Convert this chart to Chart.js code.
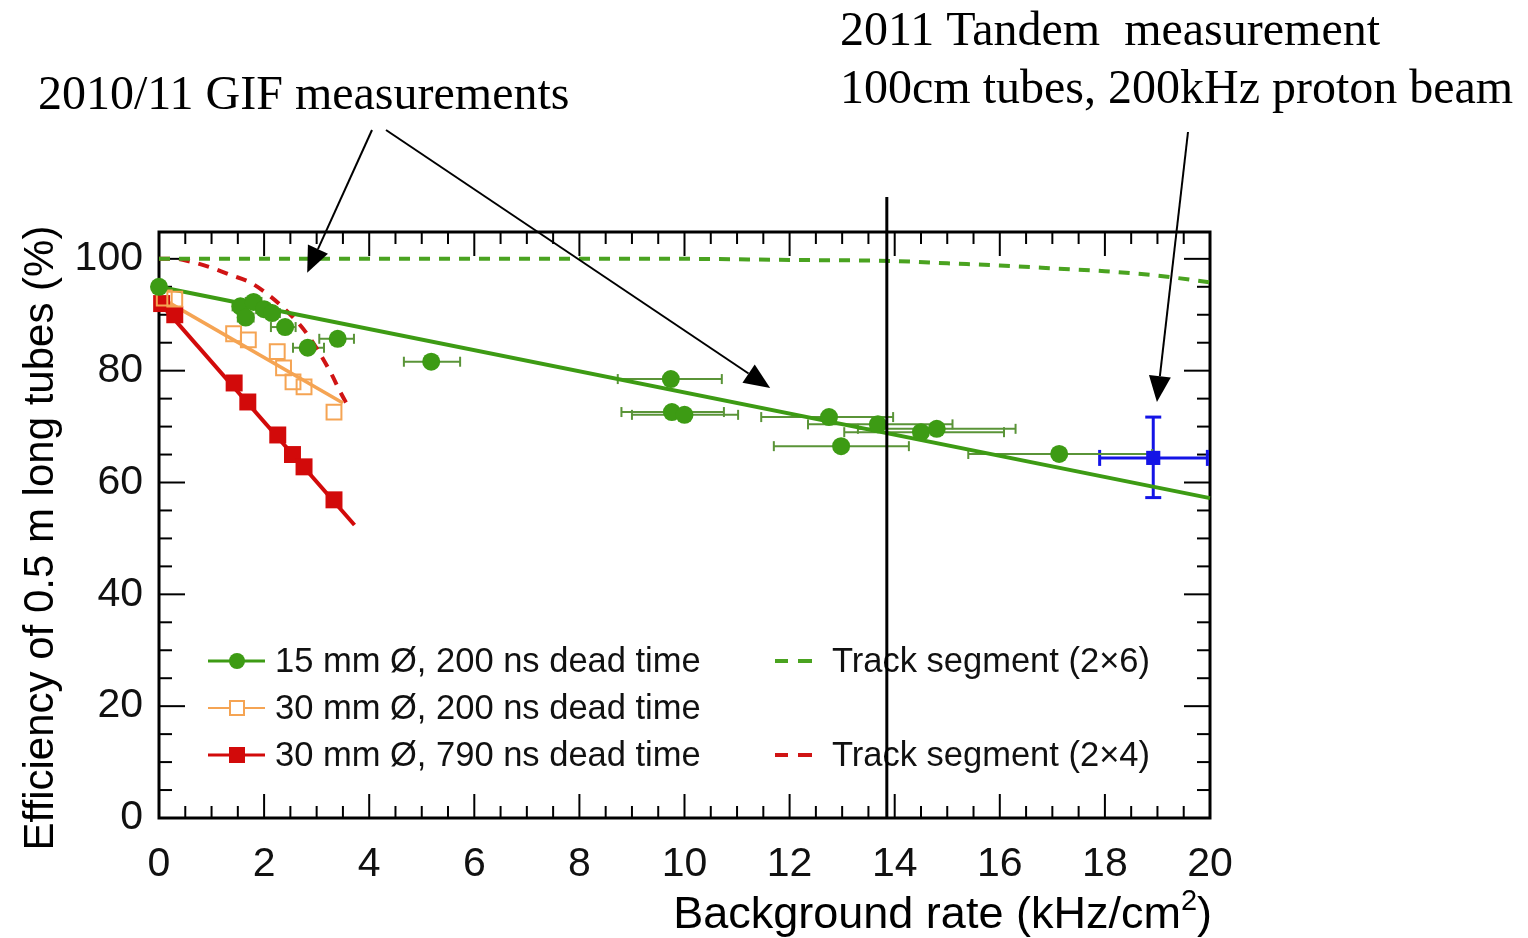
<!DOCTYPE html>
<html>
<head>
<meta charset="utf-8">
<script src="https://cdn.jsdelivr.net/npm/chart.js@4.4.1/dist/chart.umd.min.js"></script>
<style>
  html, body { margin: 0; padding: 0; background: #fff; }
  #wrap { width: 1528px; height: 938px; }
</style>
</head>
<body>
<div id="wrap"><canvas id="chart" width="1528" height="938"></canvas></div>
<script>
// GIF 2010/11, 15 mm tubes, 200 ns dead time
const gif15Rate   = [0.0, 1.55, 1.65, 1.8, 2.0, 2.15, 2.4, 2.83, 3.4, 5.18, 9.74, 9.76, 10.0, 12.75, 12.98, 13.68, 14.5, 14.8, 17.13];
const gif15RateLo = [0.0, 1.4, 1.5, 1.65, 1.85, 2.0, 2.13, 2.55, 3.05, 4.66, 8.73, 8.8, 9.0, 11.46, 11.7, 12.35, 13.04, 13.3, 15.4];
const gif15RateHi = [0.0, 1.7, 1.8, 1.95, 2.15, 2.3, 2.6, 3.14, 3.71, 5.73, 10.71, 10.75, 11.02, 13.97, 14.27, 15.1, 16.08, 16.3, 18.9];
const gif15Eff    = [95.0, 91.5, 89.5, 92.3, 91.0, 90.3, 87.8, 84.1, 85.7, 81.6, 78.5, 72.6, 72.1, 71.7, 66.5, 70.4, 69.0, 69.6, 65.1];

// GIF 2010/11, 30 mm tubes, 200 ns dead time
const gif30Rate = [0.1, 0.3, 1.42, 1.7, 2.25, 2.37, 2.55, 2.76, 3.33];
const gif30Eff  = [93.0, 92.8, 86.6, 85.5, 83.4, 80.5, 78.0, 77.1, 72.6];

// GIF 2010/11, 30 mm tubes, 790 ns dead time
const gif790Rate = [0.05, 0.3, 1.43, 1.69, 2.26, 2.54, 2.76, 3.33];
const gif790Eff  = [92.0, 90.0, 77.8, 74.4, 68.5, 65.0, 62.8, 56.9];

// straight-line fits
const fit15Rate  = [0, 20];   const fit15Eff  = [95.0, 57.2];
const fit30Rate  = [0, 3.5];  const fit30Eff  = [93.2, 74.2];
const fit790Rate = [0, 3.72]; const fit790Eff = [92.3, 52.4];

// track segment efficiency curves
const seg26Rate = [0, 10, 12, 14, 15, 16, 17, 18, 19, 20];
const seg26Eff  = [100, 100, 99.8, 99.6, 99.2, 98.8, 98.3, 97.8, 97.0, 95.8];
const seg24Rate = [0, 0.3, 0.6, 1.0, 1.37, 1.75, 2.13, 2.45, 2.76, 3.02, 3.27, 3.46, 3.62];
const seg24Eff  = [100, 100, 99.5, 98.4, 97.1, 95.7, 93.2, 90.5, 87.3, 83.7, 79.6, 76.0, 73.3];

// Tandem 2011, 100 cm tubes
const tandemRate = [18.92]; const tandemRateLo = [17.9]; const tandemRateHi = [19.95];
const tandemEff  = [64.4];  const tandemEffLo  = [57.3]; const tandemEffHi  = [71.7];

const cutRate = 13.85;

const xTicks = [0, 2, 4, 6, 8, 10, 12, 14, 16, 18, 20];
const yTicks = [0, 20, 40, 60, 80, 100];
const xMinorStep = 0.5;
const yMinorStep = 5;

const label15  = '15 mm \u00D8, 200 ns dead time';
const label30  = '30 mm \u00D8, 200 ns dead time';
const label790 = '30 mm \u00D8, 790 ns dead time';
const label26  = 'Track segment (2\u00D76)';
const label24  = 'Track segment (2\u00D74)';

const GREEN = '#3d9b14';
const ORANGE = '#f5a453';
const RED = '#d20a0a';
const BLUE = '#1414e6';

const pts = (xs, ys) => xs.map((v, i) => ({ x: v, y: ys[i] }));

const datasets = [
    {
        label: 'tandem', data: pts(tandemRate, tandemEff),
        pointStyle: 'rect', pointRadius: 10, backgroundColor: BLUE, borderColor: BLUE, borderWidth: 0,
        xLo: tandemRateLo, xHi: tandemRateHi, yLo: tandemEffLo, yHi: tandemEffHi,
        errColor: BLUE, errWidth: 3, capSize: 8
    },
    {
        label: label15, data: pts(gif15Rate, gif15Eff),
        pointStyle: 'circle', pointRadius: 9, backgroundColor: GREEN, borderColor: GREEN, borderWidth: 0,
        xLo: gif15RateLo, xHi: gif15RateHi,
        errColor: '#5a9438', errWidth: 2, capSize: 5
    },
    {
        label: label30, data: pts(gif30Rate, gif30Eff),
        pointStyle: 'rect', pointRadius: 10.5, backgroundColor: 'rgba(0,0,0,0)', borderColor: ORANGE, borderWidth: 2
    },
    {
        label: label790, data: pts(gif790Rate, gif790Eff),
        pointStyle: 'rect', pointRadius: 12, backgroundColor: RED, borderColor: RED, borderWidth: 0
    },
    {
        label: 'fit15', data: pts(fit15Rate, fit15Eff), showLine: true, pointRadius: 0,
        borderColor: GREEN, borderWidth: 4
    },
    {
        label: 'fit30', data: pts(fit30Rate, fit30Eff), showLine: true, pointRadius: 0,
        borderColor: ORANGE, borderWidth: 3.5
    },
    {
        label: 'fit790', data: pts(fit790Rate, fit790Eff), showLine: true, pointRadius: 0,
        borderColor: RED, borderWidth: 4
    },
    {
        label: label26, data: pts(seg26Rate, seg26Eff), showLine: true, pointRadius: 0,
        borderColor: '#4aa320', borderWidth: 4, borderDash: [11, 9], cubicInterpolationMode: 'monotone'
    },
    {
        label: label24, data: pts(seg24Rate, seg24Eff), showLine: true, pointRadius: 0,
        borderColor: '#d01414', borderWidth: 4, borderDash: [11, 9], cubicInterpolationMode: 'monotone'
    }
];
datasets.forEach(ds => { ds.clip = false; });

function seg(ctx, x0, y0, x1, y1) {
    ctx.beginPath(); ctx.moveTo(x0, y0); ctx.lineTo(x1, y1); ctx.stroke();
}

function arrow(ctx, x0, y0, x1, y1) {
    const ang = Math.atan2(y1 - y0, x1 - x0);
    const len = 26, half = 11;
    const bx = x1 - len * Math.cos(ang), by = y1 - len * Math.sin(ang);
    ctx.lineWidth = 2;
    seg(ctx, x0, y0, bx, by);
    ctx.beginPath();
    ctx.moveTo(x1, y1);
    ctx.lineTo(bx + half * Math.sin(ang), by - half * Math.cos(ang));
    ctx.lineTo(bx - half * Math.sin(ang), by + half * Math.cos(ang));
    ctx.closePath();
    ctx.fill();
}

// frame with inward ticks on all four sides, plus error bars
const plotDecor = {
    id: 'plotDecor',
    beforeDatasetsDraw(chart) {
        const { ctx, chartArea: a, scales: { x, y } } = chart;
        ctx.save();
        ctx.strokeStyle = '#000';
        ctx.lineWidth = 2;
        for (let v = 0; v <= 20.001; v += xMinorStep) {
            const px = x.getPixelForValue(v);
            const major = xTicks.some(t => Math.abs(t - v) < 1e-6);
            const l = major ? 24 : 12;
            seg(ctx, px, a.bottom, px, a.bottom - l);
            seg(ctx, px, a.top, px, a.top + l);
        }
        for (let v = 0; v <= 100.001; v += yMinorStep) {
            const py = y.getPixelForValue(v);
            const major = yTicks.some(t => Math.abs(t - v) < 1e-6);
            const l = major ? 26 : 13;
            seg(ctx, a.left, py, a.left + l, py);
            seg(ctx, a.right, py, a.right - l, py);
        }
        ctx.lineWidth = 3;
        ctx.strokeRect(a.left, a.top, a.right - a.left, a.bottom - a.top);

        chart.data.datasets.forEach(ds => {
            if (!ds.xLo && !ds.yLo) return;
            ctx.strokeStyle = ds.errColor;
            ctx.lineWidth = ds.errWidth;
            ds.data.forEach((p, j) => {
                const px = x.getPixelForValue(p.x), py = y.getPixelForValue(p.y);
                const c = ds.capSize;
                if (ds.xLo && ds.xHi[j] > ds.xLo[j]) {
                    const x0 = x.getPixelForValue(ds.xLo[j]), x1 = x.getPixelForValue(ds.xHi[j]);
                    seg(ctx, x0, py, x1, py);
                    seg(ctx, x0, py - c, x0, py + c);
                    seg(ctx, x1, py - c, x1, py + c);
                }
                if (ds.yLo) {
                    const y0 = y.getPixelForValue(ds.yLo[j]), y1 = y.getPixelForValue(ds.yHi[j]);
                    seg(ctx, px, y0, px, y1);
                    seg(ctx, px - c, y0, px + c, y0);
                    seg(ctx, px - c, y1, px + c, y1);
                }
            });
        });
        ctx.restore();
    },
    afterDatasetsDraw(chart) {
        const { ctx, chartArea: a, scales: { x, y } } = chart;
        ctx.save();
        // legend
        ctx.font = '34.5px "Liberation Sans"';
        ctx.fillStyle = '#111';
        ctx.textBaseline = 'middle';
        const rows = [661, 708, 755];
        const lx0 = 208, lx1 = 265, lmid = 237, tx = 275;
        // 15 mm
        ctx.strokeStyle = GREEN; ctx.lineWidth = 3;
        seg(ctx, lx0, rows[0], lx1, rows[0]);
        ctx.fillStyle = GREEN;
        ctx.beginPath(); ctx.arc(lmid, rows[0], 8, 0, Math.PI * 2); ctx.fill();
        // 30 mm, 200 ns
        ctx.strokeStyle = ORANGE; ctx.lineWidth = 2;
        seg(ctx, lx0, rows[1], lx1, rows[1]);
        ctx.fillStyle = '#fff';
        ctx.fillRect(lmid - 7, rows[1] - 7, 14, 14);
        ctx.strokeRect(lmid - 7, rows[1] - 7, 14, 14);
        // 30 mm, 790 ns
        ctx.strokeStyle = RED; ctx.lineWidth = 3;
        seg(ctx, lx0, rows[2], lx1, rows[2]);
        ctx.fillStyle = RED;
        ctx.fillRect(lmid - 8, rows[2] - 8, 16, 16);
        ctx.fillStyle = '#111';
        ctx.fillText(label15, tx, rows[0] + 1);
        ctx.fillText(label30, tx, rows[1] + 1);
        ctx.fillText(label790, tx, rows[2] + 1);
        // track segment curves
        ctx.lineWidth = 4;
        ctx.strokeStyle = '#4aa320';
        seg(ctx, 775, rows[0], 788, rows[0]); seg(ctx, 798, rows[0], 812, rows[0]);
        ctx.strokeStyle = '#d01414';
        seg(ctx, 775, rows[2], 788, rows[2]); seg(ctx, 798, rows[2], 812, rows[2]);
        ctx.fillText(label26, 832, rows[0] + 1);
        ctx.fillText(label24, 832, rows[2] + 1);

        // vertical marker line
        const cx = x.getPixelForValue(cutRate);
        ctx.strokeStyle = '#000'; ctx.lineWidth = 3;
        seg(ctx, cx, a.top - 35, cx, a.bottom);
        ctx.restore();
    },
    afterDraw(chart) {
        const { ctx, chartArea: a, scales: { x, y } } = chart;
        ctx.save();
        ctx.fillStyle = '#000';
        ctx.strokeStyle = '#000';

        // axis titles
        ctx.textBaseline = 'alphabetic';
        const main = 'Background rate (kHz/cm';
        ctx.font = '29px "Liberation Sans"';
        const w2 = ctx.measureText('2').width;
        ctx.font = '45px "Liberation Sans"';
        const wClose = ctx.measureText(')').width;
        const wMain = ctx.measureText(main).width;
        const right = a.right + 2;
        const base = 928;
        ctx.textAlign = 'left';
        ctx.fillText(main, right - wClose - w2 - wMain, base);
        ctx.fillText(')', right - wClose, base);
        ctx.font = '29px "Liberation Sans"';
        ctx.fillText('2', right - wClose - w2, base - 18);

        ctx.font = '42px "Liberation Sans"';
        ctx.save();
        ctx.translate(41, 538);
        ctx.rotate(-Math.PI / 2);
        ctx.textAlign = 'center';
        ctx.textBaseline = 'middle';
        ctx.fillText('Efficiency of 0.5 m long tubes (%)', 0, 0);
        ctx.restore();

        // annotations
        ctx.font = '48px "Liberation Serif"';
        ctx.textAlign = 'left';
        ctx.textBaseline = 'alphabetic';
        ctx.fillText('2010/11 GIF measurements', 38, 109);
        ctx.fillText('2011 Tandem  measurement', 840, 45);
        ctx.fillText('100cm tubes, 200kHz proton beam', 840, 103);

        arrow(ctx, 372, 130, x.getPixelForValue(2.82), y.getPixelForValue(97.5));
        arrow(ctx, 386, 130, x.getPixelForValue(11.63), y.getPixelForValue(76.9));
        arrow(ctx, 1188, 132, x.getPixelForValue(18.99), y.getPixelForValue(74.4));
        ctx.restore();
    }
};

new Chart(document.getElementById('chart').getContext('2d'), {
    type: 'scatter',
    data: { datasets: datasets },
    options: {
        responsive: false,
        animation: false,
        devicePixelRatio: 1,
        layout: { padding: { top: 232, right: 318, left: 0, bottom: 0 } },
        plugins: { legend: { display: false }, tooltip: { enabled: false } },
        scales: {
            x: {
                type: 'linear', min: 0, max: 20,
                grid: { display: false }, border: { display: false },
                afterBuildTicks: s => { s.ticks = xTicks.map(v => ({ value: v })); },
                afterFit: s => { s.height = 120; },
                ticks: { color: '#111', padding: 14, maxRotation: 0, autoSkip: false,
                         font: { family: 'Liberation Sans', size: 41 } }
            },
            y: {
                type: 'linear', min: 0, max: 104.8,
                grid: { display: false }, border: { display: false },
                afterBuildTicks: s => { s.ticks = yTicks.map(v => ({ value: v })); },
                afterFit: s => { s.width = 159; },
                ticks: { color: '#111', padding: 8, autoSkip: false,
                         font: { family: 'Liberation Sans', size: 41 } }
            }
        }
    },
    plugins: [plotDecor]
});
</script>
</body>
</html>
